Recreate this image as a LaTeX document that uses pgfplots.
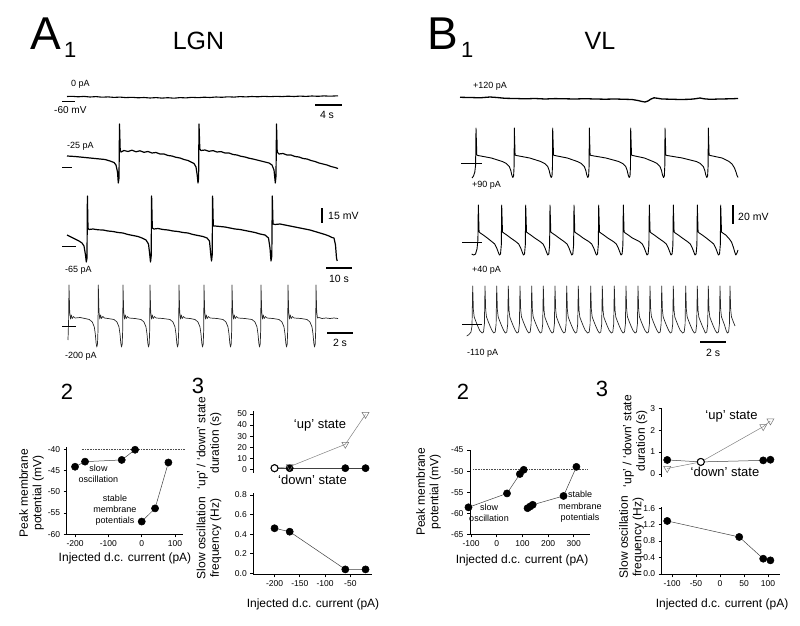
\documentclass[border=0pt]{standalone}
\usepackage{pgfplots}
\pgfplotsset{compat=1.18}
\usepackage{fontspec}
\setmainfont{Liberation Sans}
\newcommand{\fs}[2]{\fontsize{#1}{#2}\selectfont}
\pgfplotsset{
  panel/.style={
    scale only axis, clip=false,
    axis x line*=bottom, axis y line*=left,
    axis line style={line width=0.7pt, -},
    tick align=outside, major tick length=3pt,
    tick style={line width=0.7pt, black},
    tick label style={font=\fs{8.5}{10}},
    /pgf/number format/assume math mode=true,
  },
  toppanel/.style={
    scale only axis, clip=false,
    hide x axis, axis y line*=left,
    axis line style={line width=0.7pt, -},
    tick align=outside, major tick length=3pt,
    tick style={line width=0.7pt, black},
    tick label style={font=\fs{8.5}{10}},
    /pgf/number format/assume math mode=true,
  },
  dser/.style={color=black!75, line width=0.5pt, mark=*, mark size=3.6pt, mark options={fill=black, draw=black, solid}},
  user/.style={color=black!50, line width=0.5pt, mark=triangle, mark size=4pt, mark options={fill=white, draw=black!55, rotate=180}},
  oser/.style={only marks, mark=*, mark size=3.5pt, mark options={fill=white, draw=black, line width=1pt}},
}
\begin{document}
\begin{tikzpicture}[x=1pt,y=1pt]
\useasboundingbox (0pt,0pt) rectangle (800pt,626pt);

% ---------------- overlay axis in pixel coordinates (traces, labels) ----------------
\begin{axis}[at={(0pt,0pt)}, anchor=south west, scale only axis, width=800pt, height=626pt,
  xmin=0, xmax=800, ymin=0, ymax=626, y dir=reverse, hide axis, clip=false]

% titles
\node[anchor=base west, inner sep=0, font=\fs{46}{50}] at (30,50) {A};
\node[anchor=base west, inner sep=0, font=\fs{22}{24}] at (64,57) {1};
\node[anchor=base, inner sep=0, font=\fs{25}{28}] at (198.5,50) {LGN};
\node[anchor=base west, inner sep=0, font=\fs{46}{50}] at (427,50) {B};
\node[anchor=base west, inner sep=0, font=\fs{22}{24}] at (461,57) {1};
\node[anchor=base, inner sep=0, font=\fs{25}{28}] at (600,50) {VL};

% ---- LGN trace 1 (0 pA)
\addplot[black, line width=1.1pt, line join=round] coordinates {
(67,96.5)(72,96.3)(78,96.8)(84,96.4)(90,97)(96,96.6)(102,97.2)(108,96.9)(114,97.4)(120,97.1)(126,97.6)(132,97.3)(138,97.8)(144,97.5)(150,98)(156,97.6)(162,98.1)(168,97.7)(174,98.2)(180,97.6)(186,97.9)(192,97.3)(198,97.7)(204,97.2)(210,97.5)(216,97)(222,97.3)(228,96.8)(234,97.1)(240,96.6)(246,96.9)(252,96.5)(258,96.8)(264,96.3)(270,96.7)(276,96.3)(282,96.6)(288,96.2)(294,96.5)(300,96.1)(306,96.4)(312,96)(318,96.3)(324,95.9)(330,96.2)(338,95.8)};
% ---- LGN trace 2 (-25 pA)
\addplot[black, line width=1.2pt, line join=round] coordinates {
(67,156)(75,156.5)(85,157.5)(95,158.5)(105,159.5)(110,161)(114,162.5)(116,165)(117.5,172)(118.3,183)(119,178)(119.5,124)(120.2,150)(121,152)
(124,150.5)(128,151.5)(132,150.2)(136,151.8)(140,150.8)(144,152.3)(148,151.5)(152,153)(156,152.5)(160,154)(164,154)(168,155.5)(172,156)(176,157.3)(180,158)(184,159.5)(188,160.5)(191,162)(194,163.5)(196,167)(197.2,175)(198,183)(198.6,178)(199,124)(199.8,149)(201,150.5)
(205,150)(209,151.3)(213,150.6)(217,152)(221,151.6)(225,153)(229,153)(233,154.5)(237,155)(241,156.3)(245,157)(249,158.2)(253,159)(257,160)(261,161)(265,162)(269,163)(272,165)(274,170)(275.3,183)(276,176)(276.5,124)(277.2,152)(279,154)
(283,153.5)(287,155)(291,155)(295,156.5)(299,157)(303,158.5)(307,159)(311,160.5)(315,161.5)(319,163)(323,164)(327,165)(331,166.5)(335,167.5)(338,168.5)};
% ---- LGN trace 3 (-65 pA)
\addplot[black, line width=1.2pt, line join=round] coordinates {
(67,235)(71,237)(75,239)(79,241)(82,243)(84,246)(85.5,255)(86.3,262)(87,258)(87.4,196)(88,228)(89,229.5)
(93,229)(98,229.8)(103,230)(108,231)(113,231.5)(118,232.5)(123,233)(128,234.5)(133,235.5)(138,236.5)(142,238)(146,240)(148.5,244)(149.8,255)(150.5,262)(151.2,256)(151.6,196)(152.3,228)
(154,229)(158,228.5)(163,229.5)(168,230)(173,231)(178,231.5)(183,232.5)(188,233)(193,234.5)(198,235.5)(203,236.5)(207,238)(209.5,241)(210.8,255)(211.5,261)(212.2,255)(212.6,196)(213.3,226)
(215,226)(220,226.5)(225,227)(230,228)(235,229)(240,229.5)(245,230.5)(250,231.5)(255,232.5)(260,234)(265,235)(268.5,238)(270,248)(271,261)(271.8,256)(272.3,196)(273,224)
(275,224.5)(280,224)(285,225)(290,226)(295,227)(300,228)(305,229)(310,230)(315,231.5)(320,233)(325,234.5)(329,236)(332,237.5)(334,238)(335.5,245)(336.5,258)(337.2,261)};
% ---- LGN trace 4 (-200 pA)
\addplot[black!85, line width=0.7pt, line join=round] coordinates {
(68,340)(68.6,320)(69,285)(69.7,312)(70.5,319)(71.3,315)(72.2,318.5)(73.5,316.5)(75,318)(80,317.5)(85,318.5)(89.3,319.5)(92.3,322)(94.3,327)(95.3,334)(96.1,343)(96.8,347)(97.5,344)(98,330)(98.3,285)
(99,312)(99.8,319)(100.6,315)(101.5,318.5)(102.8,316.5)(104.3,318)(108,318.5)(114,319.5)(117,322)(119,327)(120,334)(120.8,343)(121.5,347)(122.2,344)(122.7,330)(123,285)
(123.7,312)(124.5,319)(125.3,315)(126.2,318.5)(127.5,316.5)(129,318)(135,318.5)(141,319.5)(144,322)(146,327)(147,334)(147.8,343)(148.5,347)(149.2,344)(149.7,330)(150,285)
(150.7,312)(151.5,319)(152.3,315)(153.2,318.5)(154.5,316.5)(156,318)(163,318.5)(170,319.5)(173,322)(175,327)(176,334)(176.8,343)(177.5,347)(178.2,344)(178.7,330)(179,285)
(179.7,312)(180.5,319)(181.3,315)(182.2,318.5)(183.5,316.5)(185,318)(190,318.5)(195,319.5)(198,322)(200,327)(201,334)(201.8,343)(202.5,347)(203.2,344)(203.7,330)(204,285)
(204.7,312)(205.5,319)(206.3,315)(207.2,318.5)(208.5,316.5)(210,318)(217,318.5)(223,319.5)(226,322)(228,327)(229,334)(229.8,343)(230.5,347)(231.2,344)(231.7,330)(232,285)
(232.7,312)(233.5,319)(234.3,315)(235.2,318.5)(236.5,316.5)(238,318)(245,318.5)(252,319.5)(255,322)(257,327)(258,334)(258.8,343)(259.5,347)(260.2,344)(260.7,330)(261,285)
(261.7,312)(262.5,319)(263.3,315)(264.2,318.5)(265.5,316.5)(267,318)(273,318.5)(279,319.5)(282,322)(284,327)(285,334)(285.8,343)(286.5,347)(287.2,344)(287.7,330)(288,285)
(288.7,312)(289.5,319)(290.3,315)(291.2,318.5)(292.5,316.5)(294,318)(301,318.5)(307,319.5)(310,322)(312,327)(313,334)(313.8,343)(314.5,347)(315.2,344)(315.7,330)(316,285)
(316.7,312)(317.5,318)(319,317.5)(322,318.5)(326,318)(330,318.5)(334,318)(338,318.5)};

% ---- VL trace 1 (+120 pA)
\addplot[black, line width=1.3pt, line join=round] coordinates {
(460,97.3)(470,97.5)(480,97.8)(490,97)(497,97.5)(505,98.3)(515,98.5)(525,98.8)(535,98.5)(545,99)(555,98.6)(565,98.8)(575,99)(585,98.7)(595,99)(605,99.2)(615,99)(625,99.3)(632,99.5)(638,100.5)(642,101.5)(645,102)(648,101)(651,99)(654,97.8)(657,98.2)(662,99)(670,99.2)(680,99.5)(690,99.3)(695,98.8)(700,98)(704,98.8)(710,99.3)(720,99)(730,98.8)(738,98.5)};
% ---- VL trace 2 (+90 pA)
\addplot[black, line width=0.9pt, line join=round] coordinates {
(472,178)(473.5,176)(474.8,172)(475.6,165)(476,128)
(476.8,155)(478,155.5)(491.3,158)(502.3,161.5)(506.3,163.5)(509.3,166.5)(510.8,170.5)(511.8,175)(512.8,177.5)(513.6,176)(514.1,166)(514.3,128)
(515.1,155)(516.3,155.5)(529.7,158)(540.7,161.5)(544.7,163.5)(547.7,166.5)(549.2,170.5)(550.2,175)(551.2,177.5)(552,176)(552.5,166)(552.7,128)
(553.5,155)(554.7,155.5)(567.3,158)(577.3,161.5)(581.3,163.5)(584.3,166.5)(585.8,170.5)(586.8,175)(587.8,177.5)(588.6,176)(589.1,166)(589.3,128)
(590.1,155)(591.3,155.5)(605.9,158)(618.7,161.5)(622.7,163.5)(625.7,166.5)(627.2,170.5)(628.2,175)(629.2,177.5)(630,176)(630.5,166)(630.7,128)
(631.5,155)(632.7,155.5)(644.4,158)(653,161.5)(657,163.5)(660,166.5)(661.5,170.5)(662.5,175)(663.5,177.5)(664.3,176)(664.8,166)(665,128)
(665.8,155)(667,155.5)(682.3,158)(696.3,161.5)(700.3,163.5)(703.3,166.5)(704.8,170.5)(705.8,175)(706.8,177.5)(707.6,176)(708.1,166)(708.3,128)
(709.1,155)(710.3,155.5)(722,158)(729,161.5)(732,164)(734.5,168)(736,172)(737,175.5)(738,177.5)};
% ---- VL trace 3 (+40 pA)
\addplot[black, line width=0.9pt, line join=round] coordinates {
(471.7,254)(473.5,255)(475.5,254)(477,249)(477.9,240)(478.3,205)
(479.1,232)(480.3,233)(483.3,235)(487.3,238)(491.7,241.5)(494.7,244)(496.7,248)(498.2,252)(499.4,255)(500.5,254)(501.3,245)(501.7,205)
(502.5,232)(503.7,233)(506.7,235)(510.7,238)(515.7,241.5)(518.7,244)(520.7,248)(522.2,252)(523.4,255)(524.5,254)(525.3,245)(525.7,205)
(526.5,232)(527.7,233)(530.7,235)(534.7,238)(540,241.5)(543,244)(545,248)(546.5,252)(547.7,255)(548.8,254)(549.6,245)(550,205)
(550.8,232)(552,233)(555,235)(559,238)(564,241.5)(567,244)(569,248)(570.5,252)(571.7,255)(572.8,254)(573.6,245)(574,205)
(574.8,232)(576,233)(579,235)(583,238)(588.7,241.5)(591.7,244)(593.7,248)(595.2,252)(596.4,255)(597.5,254)(598.3,245)(598.7,205)
(599.5,232)(600.7,233)(603.7,235)(607.7,238)(613.3,241.5)(616.3,244)(618.3,248)(619.8,252)(621,255)(622.1,254)(622.9,245)(623.3,205)
(624.1,232)(625.3,233)(628.3,235)(632.3,238)(639.3,241.5)(642.3,244)(644.3,248)(645.8,252)(647,255)(648.1,254)(648.9,245)(649.3,205)
(650.1,232)(651.3,233)(654.3,235)(658.3,238)(663.3,241.5)(666.3,244)(668.3,248)(669.8,252)(671,255)(672.1,254)(672.9,245)(673.3,205)
(674.1,232)(675.3,233)(678.3,235)(682.3,238)(687.3,241.5)(690.3,244)(692.3,248)(693.8,252)(695,255)(696.1,254)(696.9,245)(697.3,205)
(698.1,232)(699.3,233)(702.3,235)(706.3,238)(710.7,241.5)(713.7,244)(715.7,248)(717.2,252)(718.4,255)(719.5,254)(720.3,245)(720.7,205)
(721.5,232)(722.7,233)(725.7,235)(729,238.5)(731.5,242)(733.3,247)(734.7,252)(735.8,255)(737,253)(738,250)};
% ---- VL trace 4 (-110 pA)
\addplot[black!85, line width=0.7pt, line join=round] coordinates {
(466.7,336)(469,334.5)(471,332)(472,326)(472.7,286)
(473.4,310)(474.2,317)(475.7,321)(477.7,326)(479.7,330.5)(482,333)(483.5,332)(484.4,324)(485,286)
(485.7,310)(486.5,317)(488,321)(490,326)(492,330.5)(493.7,333)(495.2,332)(496.1,324)(496.7,286)
(497.4,310)(498.2,317)(499.7,321)(501.7,326)(503.7,330.5)(505.3,333)(506.8,332)(507.7,324)(508.3,286)
(509,310)(509.8,317)(511.3,321)(513.3,326)(515.3,330.5)(517,333)(518.5,332)(519.4,324)(520,286)
(520.7,310)(521.5,317)(523,321)(525,326)(527,330.5)(528.7,333)(530.2,332)(531.1,324)(531.7,286)
(532.4,310)(533.2,317)(534.7,321)(536.7,326)(538.7,330.5)(540.3,333)(541.8,332)(542.7,324)(543.3,286)
(544,310)(544.8,317)(546.3,321)(548.3,326)(550.3,330.5)(552,333)(553.5,332)(554.4,324)(555,286)
(555.7,310)(556.5,317)(558,321)(560,326)(562,330.5)(563.7,333)(565.2,332)(566.1,324)(566.7,286)
(567.4,310)(568.2,317)(569.7,321)(571.7,326)(573.7,330.5)(575.3,333)(576.8,332)(577.7,324)(578.3,286)
(579,310)(579.8,317)(581.3,321)(583.3,326)(585.3,330.5)(587.7,333)(589.2,332)(590.1,324)(590.7,286)
(591.4,310)(592.2,317)(593.7,321)(595.7,326)(597.7,330.5)(599.3,333)(600.8,332)(601.7,324)(602.3,286)
(603,310)(603.8,317)(605.3,321)(607.3,326)(609.3,330.5)(611.3,333)(612.8,332)(613.7,324)(614.3,286)
(615,310)(615.8,317)(617.3,321)(619.3,326)(621.3,330.5)(623,333)(624.5,332)(625.4,324)(626,286)
(626.7,310)(627.5,317)(629,321)(631,326)(633,330.5)(635,333)(636.5,332)(637.4,324)(638,286)
(638.7,310)(639.5,317)(641,321)(643,326)(645,330.5)(647,333)(648.5,332)(649.4,324)(650,286)
(650.7,310)(651.5,317)(653,321)(655,326)(657,330.5)(658.7,333)(660.2,332)(661.1,324)(661.7,286)
(662.4,310)(663.2,317)(664.7,321)(666.7,326)(668.7,330.5)(670.3,333)(671.8,332)(672.7,324)(673.3,286)
(674,310)(674.8,317)(676.3,321)(678.3,326)(680.3,330.5)(682.7,333)(684.2,332)(685.1,324)(685.7,286)
(686.4,310)(687.2,317)(688.7,321)(690.7,326)(692.7,330.5)(694.3,333)(695.8,332)(696.7,324)(697.3,286)
(698,310)(698.8,317)(700.3,321)(702.3,326)(704.3,330.5)(705.3,333)(706.8,332)(707.7,324)(708.3,286)
(709,310)(709.8,317)(711.3,321)(713.3,326)(715.3,330.5)(717,333)(718.5,332)(719.4,324)(720,286)
(720.7,310)(721.5,317)(723,321)(724.5,325)(726,330)(727.3,333)(728.6,332)(729.4,324)(730,286)
(730.7,310)(731.5,317)(733,321)(735,326)};

% baseline markers
\addplot[black, line width=0.6pt] coordinates {(62,101.7)(75,101.7)};
\addplot[black, line width=0.6pt] coordinates {(62,167)(72,167)};
\addplot[black, line width=0.6pt] coordinates {(62,246)(76,246)};
\addplot[black, line width=0.6pt] coordinates {(62,326)(76,326)};
\addplot[black, line width=0.6pt] coordinates {(461,163)(482,163)};
\addplot[black, line width=0.6pt] coordinates {(462,242)(482,242)};
\addplot[black, line width=0.6pt] coordinates {(462,324)(482,324)};
% scale bars
\addplot[black, line width=1.2pt] coordinates {(315,105)(342,105)};
\addplot[black, line width=1.2pt] coordinates {(322,208)(322,223)};
\addplot[black, line width=1.2pt] coordinates {(326,268)(352,268)};
\addplot[black, line width=1.2pt] coordinates {(327,333)(353,333)};
\addplot[black, line width=1.2pt] coordinates {(733,205)(733,224)};
\addplot[black, line width=1.2pt] coordinates {(700,342)(726,342)};

% trace labels
\node[anchor=west, inner sep=0, font=\fs{9}{10}] at (71,84.5) {0 pA};
\node[anchor=west, inner sep=0, font=\fs{10}{11}] at (54,110) {-60 mV};
\node[anchor=west, inner sep=0, font=\fs{9}{10}] at (67,146.5) {-25 pA};
\node[anchor=west, inner sep=0, font=\fs{9}{10}] at (65,270) {-65 pA};
\node[anchor=west, inner sep=0, font=\fs{9}{10}] at (65,356.5) {-200 pA};
\node[anchor=west, inner sep=0, font=\fs{9}{10}] at (473,86.7) {+120 pA};
\node[anchor=west, inner sep=0, font=\fs{9}{10}] at (472,185) {+90 pA};
\node[anchor=west, inner sep=0, font=\fs{9}{10}] at (472,270) {+40 pA};
\node[anchor=west, inner sep=0, font=\fs{9}{10}] at (467,353) {-110 pA};
% scale bar labels
\node[inner sep=0, font=\fs{10.5}{12}] at (327,115) {4 s};
\node[anchor=west, inner sep=0, font=\fs{10.5}{12}] at (328,215.5) {15 mV};
\node[inner sep=0, font=\fs{10.5}{12}] at (339,278.5) {10 s};
\node[inner sep=0, font=\fs{10.5}{12}] at (340,343) {2 s};
\node[anchor=west, inner sep=0, font=\fs{10.5}{12}] at (738,217) {20 mV};
\node[inner sep=0, font=\fs{10.5}{12}] at (713,352.5) {2 s};

% panel numbers
\node[inner sep=0, font=\fs{22}{24}] at (67,391.5) {2};
\node[inner sep=0, font=\fs{22}{24}] at (198,386) {3};
\node[inner sep=0, font=\fs{22}{24}] at (463,391.5) {2};
\node[inner sep=0, font=\fs{22}{24}] at (602,388.5) {3};

% axis labels
\node[rotate=90, align=center, inner sep=0, font=\fs{12}{13.5}] at (31.5,493) {Peak membrane\\potential (mV)};
\node[inner sep=0, font=\fs{12}{13.5}] at (125,558) {Injected d.c. current (pA)};
\node[rotate=90, align=center, inner sep=0, font=\fs{12}{13.5}] at (209,443) {‘up’ / ‘down’ state\\duration (s)};
\node[rotate=90, align=center, inner sep=0, font=\fs{12}{13.5}] at (209,538) {Slow oscillation\\frequency (Hz)};
\node[inner sep=0, font=\fs{12}{13.5}] at (313,604) {Injected d.c. current (pA)};
\node[rotate=90, align=center, inner sep=0, font=\fs{12}{13.5}] at (428.5,491.7) {Peak membrane\\potential (mV)};
\node[inner sep=0, font=\fs{12}{13.5}] at (522,560) {Injected d.c. current (pA)};
\node[rotate=90, align=center, inner sep=0, font=\fs{12}{13.5}] at (635,441) {‘up’ / ‘down’ state\\duration (s)};
\node[rotate=90, align=center, inner sep=0, font=\fs{12}{13.5}] at (631.5,537) {Slow oscillation\\frequency (Hz)};
\node[inner sep=0, font=\fs{12}{13.5}] at (722,604) {Injected d.c. current (pA)};

% annotations
\node[align=center, inner sep=0, font=\fs{9}{11}] at (98.5,473.5) {slow\\oscillation};
\node[align=center, inner sep=0, font=\fs{9}{11.3}] at (115,510.3) {stable\\membrane\\potentials};
\node[align=center, inner sep=0, font=\fs{9}{11}] at (489,512.5) {slow\\oscillation};
\node[align=center, inner sep=0, font=\fs{9}{11.3}] at (580,506.7) {stable\\membrane\\potentials};
\node[inner sep=0, font=\fs{13}{14}] at (320,425) {‘up’ state};
\node[inner sep=0, font=\fs{13}{14}] at (312.5,480) {‘down’ state};
\node[inner sep=0, font=\fs{13}{14}] at (731.5,416.7) {‘up’ state};
\node[inner sep=0, font=\fs{13}{14}] at (725,472) {‘down’ state};
\end{axis}

% ---------------- A2 ----------------
\begin{axis}[panel, at={(66.7pt,91.7pt)}, anchor=south west, width=116.7pt, height=87.1pt,
  xmin=-225, xmax=125, ymin=-60, ymax=-39.5,
  xtick={-200,-100,0,100}, ytick={-60,-55,-50,-45,-40}]
\addplot[densely dotted, black!70, line width=0.6pt] coordinates {(-180,-40)(130,-40)};
\addplot[dser] coordinates {(-200,-44.1)(-170,-42.9)(-60,-42.5)(-20,-40.1)};
\addplot[dser] coordinates {(0,-57)(40,-53.9)(80,-43.1)};
\end{axis}

% ---------------- A3 top ----------------
\begin{axis}[toppanel, at={(253.3pt,153.4pt)}, anchor=south west, width=118.3pt, height=61.9pt,
  xmin=-242, xmax=-8, ymin=-3, ymax=53, ytick={0,10,20,30,40,50}]
\addplot[dser] coordinates {(-200,1)(-170,1)(-60,1)(-20,1)};
\addplot[user] coordinates {(-200,1)(-170,2.4)(-60,22.6)(-20,49.6)};
\addplot[oser] coordinates {(-200,1)};
\end{axis}

% ---------------- A3 bottom ----------------
\begin{axis}[panel, at={(253.3pt,51.7pt)}, anchor=south west, width=118.3pt, height=81.3pt,
  xmin=-242, xmax=-8, ymin=-0.01, ymax=0.82,
  xtick={-200,-150,-100,-50}, ytick={0,0.2,0.4,0.6,0.8},
  yticklabel style={/pgf/number format/.cd, fixed, fixed zerofill, precision=1}]
\addplot[dser] coordinates {(-200,0.46)(-170,0.425)(-60,0.04)(-20,0.04)};
\end{axis}

% ---------------- B2 ----------------
\begin{axis}[panel, at={(470pt,91.7pt)}, anchor=south west, width=120pt, height=84.3pt,
  xmin=-104, xmax=363, ymin=-65, ymax=-45,
  xtick={-100,0,100,200,300}, ytick={-65,-60,-55,-50,-45}]
\addplot[densely dotted, black!70, line width=0.6pt] coordinates {(-92,-49.5)(352,-49.5)};
\addplot[dser] coordinates {(-110,-58.6)(40,-55.3)(90,-50.7)(105,-49.7)};
\addplot[dser] coordinates {(120,-58.8)(130,-58.4)(140,-58)(260,-55.9)(310,-49)};
\end{axis}

% ---------------- B3 top ----------------
\begin{axis}[toppanel, at={(661.7pt,149.4pt)}, anchor=south west, width=118.3pt, height=69pt,
  xmin=-121.5, xmax=125, ymin=-0.12, ymax=3.03, ytick={0,1,2,3}]
\addplot[dser] coordinates {(-110,0.64)(-40,0.55)(90,0.62)(105,0.65)};
\addplot[user] coordinates {(-110,0.25)(-40,0.55)(90,2.16)(105,2.42)};
\addplot[oser] coordinates {(-40,0.55)};
\end{axis}

% ---------------- B3 bottom ----------------
\begin{axis}[panel, at={(661.7pt,51.7pt)}, anchor=south west, width=118.3pt, height=67.7pt,
  xmin=-121.5, xmax=125, ymin=-0.01, ymax=1.64,
  xtick={-100,-50,0,50,100}, ytick={0,0.4,0.8,1.2,1.6},
  yticklabel style={/pgf/number format/.cd, fixed, fixed zerofill, precision=1}]
\addplot[dser] coordinates {(-110,1.29)(40,0.9)(90,0.37)(105,0.33)};
\end{axis}
\end{tikzpicture}
\end{document}
